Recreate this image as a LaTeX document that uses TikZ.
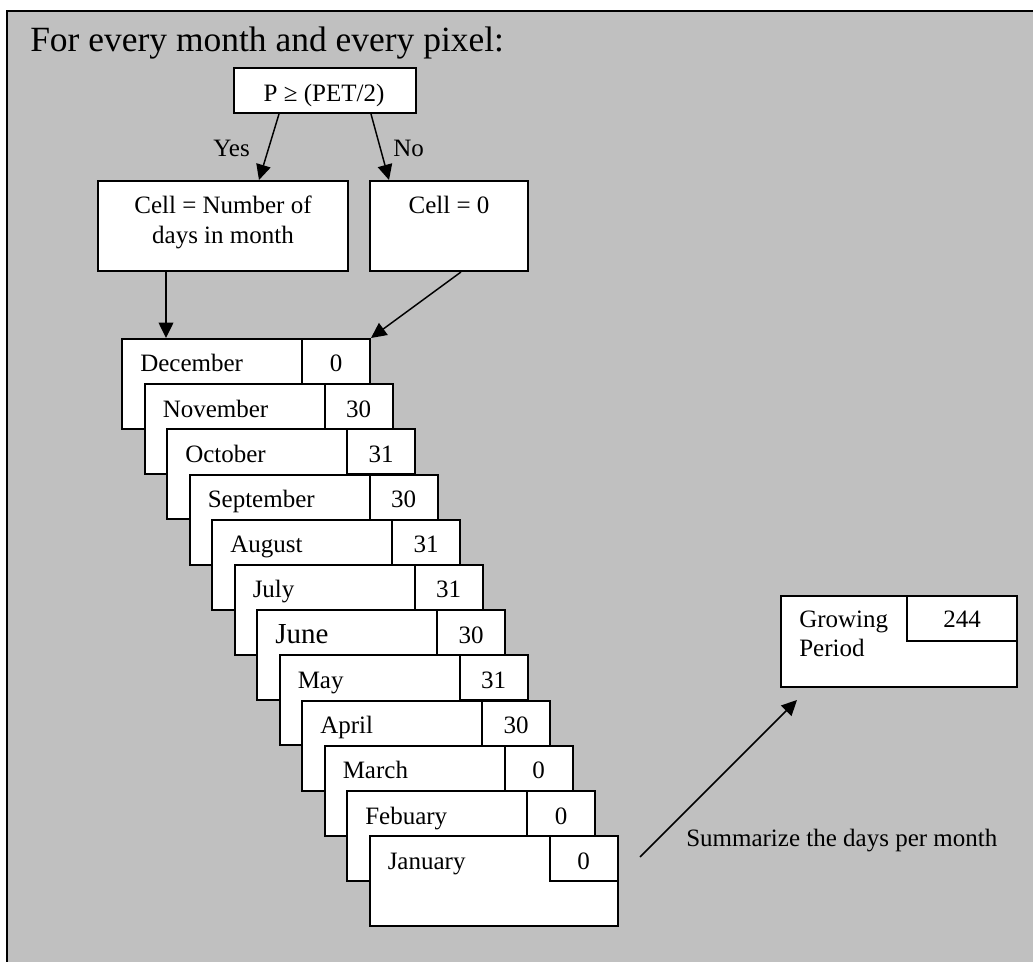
\documentclass[tikz,border=0pt]{standalone}
\usepackage{fontspec}
\setmainfont{Liberation Serif}
\usetikzlibrary{arrows.meta, positioning}
\definecolor{panelgray}{HTML}{C0C0C0}

\begin{document}
\begin{tikzpicture}[
        x=0.75pt, y=-0.75pt,
        box_line/.style={draw, line width=1.5pt, fill=white, inner sep=0pt},
        test_box/.style={box_line, minimum width=136.5pt, minimum height=33.75pt, anchor=north west},
        result_box/.style={box_line, minimum height=67.5pt, anchor=north west},
        month_card/.style={box_line, minimum width=186pt, minimum height=67.5pt, anchor=north west},
        day_cell/.style={box_line, minimum height=33.75pt, anchor=north east},
        body_text/.style={inner sep=0pt, font=\fontsize{18.75}{22.5}\selectfont},
        june_text/.style={inner sep=0pt, font=\fontsize{21.75}{26}\selectfont},
        title_text/.style={inner sep=0pt, font=\fontsize{26.6}{32}\selectfont},
        flow_arrow/.style={-{Triangle[length=11.5pt, width=11pt]}, line width=1.1pt}
    ]
    \useasboundingbox (0,0) rectangle (1033,962);

    % --- Panel ---
    \fill[panelgray] (7,11) rectangle (1033,962);
    \draw[line width=1.8pt] (7,962) -- (7,11) -- (1033,11);
    \node[title_text, anchor=base west] (title) at (30,52) {For every month and every pixel:};

    % --- Test and its two results ---
    \node[test_box] (test) at (233,67) {};
    \node[body_text, anchor=base] (test_text) at (324,102) {P ≥ (PET/2)};
    \node[result_box, minimum width=187.5pt] (cell_yes) at (97,180) {};
    \node[body_text, anchor=north, align=center] (cell_yes_text) at ([yshift=-12pt]cell_yes.north) {Cell = Number of\\days in month};
    \node[result_box, minimum width=118.5pt] (cell_no) at (369,180) {};
    \node[body_text, anchor=north] (cell_no_text) at ([yshift=-12pt]cell_no.north) {Cell = 0};

    \draw[flow_arrow] ([xshift=-34.5pt]test.south) -- ([xshift=27pt]cell_yes.north);
    \draw[flow_arrow] ([xshift=34.5pt]test.south) -- ([xshift=-45pt]cell_no.north);
    \node[body_text, anchor=base east] (lbl_yes) at (250,157) {Yes};
    \node[body_text, anchor=base west] (lbl_no) at (393,157) {No};

    % --- Stack of months, December at the back ---
    \foreach \mname/\days/\mfont [count=\i from 0] in {December/0/body_text, November/30/body_text,
        October/31/body_text, September/30/body_text, August/31/body_text, July/31/body_text,
        June/30/june_text, May/31/body_text, April/30/body_text, March/0/body_text,
        Febuary/0/body_text, January/0/body_text} {
        \node[month_card] (m\i) at ({121+22.5*\i}, {338+45.2*\i}) {};
        \node[day_cell, minimum width=51pt] (d\i) at (m\i.north east) {};
        \node[\mfont, anchor=base west] (mt\i) at ([xshift=14.25pt, yshift=-25.5pt]m\i.north west) {\mname};
        \node[body_text, anchor=base] (dt\i) at ([yshift=-25.5pt]d\i.north) {\days};
    }

    \coordinate (dec_in) at ([xshift=33.75pt]m0.north west);
    \draw[flow_arrow] (dec_in |- cell_yes.south) -- (dec_in);
    \draw[flow_arrow] ([xshift=9pt]cell_no.south) -- (m0.north east);

    % --- Result ---
    \node[month_card, minimum width=177pt, minimum height=68.25pt] (grow) at (780,595) {};
    \node[day_cell, minimum width=82.5pt] (grow_cell) at (grow.north east) {};
    \node[body_text, anchor=north west, align=left, font=\fontsize{18.75}{21.75}\selectfont] (grow_text) at ([xshift=14.25pt, yshift=-12pt]grow.north west) {Growing\\Period};
    \node[body_text, anchor=base] (grow_days) at ([yshift=-24.75pt]grow_cell.north) {244};

    \coordinate (sum_from) at (640,857);
    \coordinate (sum_to) at (797,700);
    \draw[flow_arrow] (sum_from) -- (sum_to);
    \node[body_text, anchor=base west] (sum_text) at (686,846) {Summarize the days per month};

\end{tikzpicture}
\end{document}
